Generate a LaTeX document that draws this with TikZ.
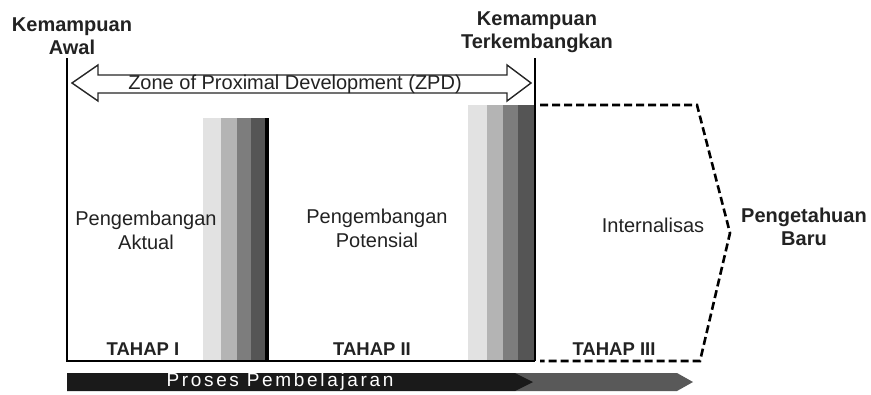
\documentclass[tikz,border=0pt]{standalone}
\usepackage{fontspec}
\setmainfont{Liberation Sans}
\newfontfamily\spacedfont[LetterSpace=14]{Liberation Sans}
\usetikzlibrary{calc}
\definecolor{bandA}{HTML}{E2E2E2}
\definecolor{bandB}{HTML}{B4B4B4}
\definecolor{bandC}{HTML}{7D7D7D}
\definecolor{bandD}{HTML}{555555}
\definecolor{barDark}{HTML}{1A1A1A}
\definecolor{barGray}{HTML}{595959}
\definecolor{txt}{HTML}{222222}
\begin{document}
\begin{tikzpicture}[x=1pt,y=-1pt,
  lbl/.style={font=\fontsize{20}{24}\selectfont, align=center, inner sep=0pt, text=txt},
  blbl/.style={font=\fontsize{20}{23}\selectfont\bfseries, align=center, inner sep=0pt, text=txt},
  tahap/.style={font=\fontsize{18.5}{21}\selectfont\bfseries, inner sep=0pt, text=txt},
  frameline/.style={line width=2pt, draw=black},
  dashline/.style={line width=2.6pt, dash pattern=on 8pt off 4pt, draw=black},
  zpdarrow/.style={line width=1.4pt, draw=black!85, fill=white, line join=miter}
]
\useasboundingbox (0,0) rectangle (871,394);

% colour bands, stage I
\fill[bandA] (203,118) rectangle (221,361);
\fill[bandB] (221,118) rectangle (237,361);
\fill[bandC] (237,118) rectangle (251,361);
\fill[bandD] (251,118) rectangle (265,361);
\fill[black] (265,118) rectangle (269,361);
% colour bands, stage II
\fill[bandA] (468,105) rectangle (487,361);
\fill[bandB] (487,105) rectangle (503,361);
\fill[bandC] (503,105) rectangle (518,361);
\fill[bandD] (518,105) rectangle (534,361);

% frame
\coordinate (awalTop) at (67,58);
\coordinate (awalBot) at (67,361);
\coordinate (kembTop) at (535,58);
\coordinate (kembBot) at (535,361);
\draw[frameline] (awalTop) -- (awalBot) -- (kembBot);
\draw[line width=2.6pt] (kembTop) -- (kembBot);

% dashed internalisation outline
\coordinate (d1) at (540,105);
\coordinate (d2) at (697,105);
\coordinate (d3) at (730,233);
\coordinate (d4) at (700,361);
\coordinate (d5) at (540,361);
\draw[dashline] (d1) -- (d2) -- (d3) -- (d4) -- (d5);

% ZPD double arrow
\draw[zpdarrow] (72,83) -- (98,65) -- (98,75) -- (507,75) -- (507,65) -- (531,83)
  -- (507,101) -- (507,93) -- (98,93) -- (98,101) -- cycle;
\node[lbl] (zpd) at (295,84) {Zone of Proximal Development (ZPD)};

% bottom process bar
\fill[barGray] (515,373) -- (677,373) -- (693,382) -- (677,391) -- (515,391) -- cycle;
\fill[barDark] (67,373) -- (515,373) -- (533,382) -- (515,391) -- (67,391) -- cycle;
\node[font=\fontsize{19}{22}\selectfont\spacedfont, text=white, inner sep=0pt] (proses) at (280,382) {Proses Pembelajaran};

% labels
\node[blbl] (awal) at (72,36) {Kemampuan\\Awal};
\node[blbl] (kemb) at (537,32) {Kemampuan\\Terkembangkan};
\node[lbl] (aktual) at (146,230) {Pengembangan\\Aktual};
\node[lbl] (potensial) at (377,228) {Pengembangan\\Potensial};
\node[lbl] (intern) at (653,225) {Internalisas};
\node[blbl] (baru) at (804,227) {Pengetahuan\\Baru};
\node[tahap] (t1) at (143,349) {TAHAP I};
\node[tahap] (t2) at (372,349) {TAHAP II};
\node[tahap] (t3) at (614,349) {TAHAP III};
\end{tikzpicture}
\end{document}
